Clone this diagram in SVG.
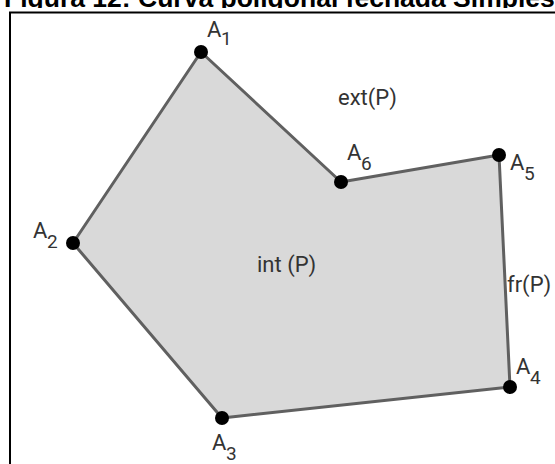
<svg xmlns="http://www.w3.org/2000/svg" width="555" height="464" viewBox="0 0 555 464">
<style>
.lbl{font-family:Roboto,"Liberation Sans",sans-serif;font-size:22px;fill:#333}
.sub{font-size:19px}
.pt{fill:#000}
.title{font-family:"Liberation Sans",Arial,sans-serif;font-weight:bold;font-size:26.5px;fill:#000}
</style>
<defs><clipPath id="tc"><rect x="0" y="0" width="555" height="8"/></clipPath></defs>
<rect width="555" height="464" fill="#fff"/>
<text class="title" x="4" y="7" clip-path="url(#tc)">Figura 12: Curva poligonal fechada Simples</text>
<path d="M10 464V12.5H555" fill="none" stroke="#000" stroke-width="2"/>
<g id="connectors">
<polygon points="201,52 73,243 222,418 510,387 499,155 341,182" fill="#d9d9d9" stroke="#606060" stroke-width="3" stroke-linejoin="round"/>
</g>
<g id="A1"><circle class="pt" cx="201" cy="52" r="7"/><text class="lbl" x="207" y="37">A</text><text class="lbl sub" x="221" y="45">1</text></g>
<g id="A2"><circle class="pt" cx="73" cy="243" r="7"/><text class="lbl" x="33" y="238">A</text><text class="lbl sub" x="47" y="248">2</text></g>
<g id="A3"><circle class="pt" cx="222" cy="418" r="7"/><text class="lbl" x="212" y="450">A</text><text class="lbl sub" x="226" y="460">3</text></g>
<g id="A4"><circle class="pt" cx="510" cy="387" r="7"/><text class="lbl" x="516" y="374">A</text><text class="lbl sub" x="530" y="384">4</text></g>
<g id="A5"><circle class="pt" cx="499" cy="155" r="7"/><text class="lbl" x="510" y="170">A</text><text class="lbl sub" x="524" y="180">5</text></g>
<g id="A6"><circle class="pt" cx="341" cy="182" r="7"/><text class="lbl" x="347" y="160">A</text><text class="lbl sub" x="361" y="170">6</text></g>
<g id="ext"><text class="lbl" x="338" y="105">ext(P)</text></g>
<g id="int"><text class="lbl" x="257" y="272">int (P)</text></g>
<g id="fr"><text class="lbl" x="507" y="292">fr(P)</text></g>
</svg>
